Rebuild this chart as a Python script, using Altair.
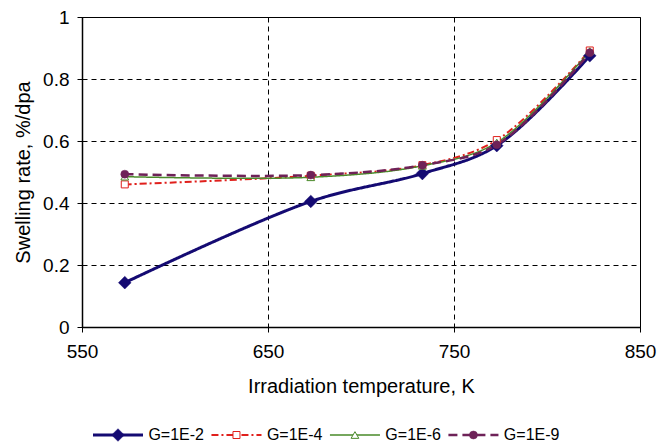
import altair as alt
import pandas as pd

# ---- data ----
temps = [573, 673, 733, 773, 823]
series = ["G=1E-2", "G=1E-4", "G=1E-6", "G=1E-9"]
g_1e2 = [0.143, 0.405, 0.495, 0.585, 0.875]
g_1e4 = [0.460, 0.488, 0.522, 0.603, 0.892]
g_1e6 = [0.485, 0.483, 0.520, 0.595, 0.890]
g_1e9 = [0.493, 0.490, 0.522, 0.588, 0.885]
values = [g_1e2, g_1e4, g_1e6, g_1e9]

x_ticks = [550, 650, 750, 850]
y_ticks = [0, 0.2, 0.4, 0.6, 0.8, 1]

# ---- styles ----
colors = ["#140a72", "#e0201c", "#4a8a2a", "#6e2258"]
dashes = [[1, 0], [7, 3, 2, 3], [1, 0], [9, 5]]
widths = [3, 2, 1.5, 2.5]
shapes = ["diamond", "square", "triangle-up", "circle"]
sizes = [160, 49, 60, 64]
filled = [True, False, False, True]

FONT = "Liberation Sans"
xs = alt.Scale(domain=[550, 850], nice=False, zero=False)
ys = alt.Scale(domain=[0, 1], nice=False)
x_axis = alt.Axis(values=x_ticks, format="d", title="Irradiation temperature, K")
y_axis = alt.Axis(values=y_ticks, format="~g", title="Swelling rate, %/dpa")

# legend layout (in x-scale units, y in pixels below plot top)
leg_start, leg_step, leg_len, leg_txt = 555.9, 63.7, 26.9, 29.8
leg_y = 418

layers = []
for i, name in enumerate(series):
    df = pd.DataFrame({"T": temps, "S": values[i], "G": name})
    line = alt.Chart(df).mark_line(
        interpolate="catmull-rom", color=colors[i], strokeDash=dashes[i],
        strokeWidth=widths[i]
    ).encode(x=alt.X("T:Q", scale=xs, axis=x_axis), y=alt.Y("S:Q", scale=ys, axis=y_axis))
    layers.append(line)

for i, name in enumerate(series):
    df = pd.DataFrame({"T": temps, "S": values[i], "G": name})
    pts = alt.Chart(df).mark_point(
        shape=shapes[i], size=sizes[i], filled=True,
        fill=colors[i] if filled[i] else "white",
        stroke=colors[i], strokeWidth=1 if not filled[i] else 0.5, opacity=1
    ).encode(x=alt.X("T:Q", scale=xs, axis=x_axis), y=alt.Y("S:Q", scale=ys, axis=y_axis))
    layers.append(pts)

# legend built from the series list
leg_rows = []
for i, name in enumerate(series):
    x0 = leg_start + i * leg_step
    leg_rows.append({"G": name, "x0": x0, "x1": x0 + leg_len, "xm": x0 + leg_len / 2,
                     "xt": x0 + leg_txt})
leg_df = pd.DataFrame(leg_rows)

for i, name in enumerate(series):
    d = leg_df[leg_df.G == name]
    base = alt.Chart(d)
    layers.append(base.mark_rule(color=colors[i], strokeDash=dashes[i], strokeWidth=widths[i]).encode(
        x=alt.X("x0:Q", scale=xs, axis=x_axis), x2="x1:Q", y=alt.value(leg_y)))
    layers.append(base.mark_point(
        shape=shapes[i], size=sizes[i], filled=True,
        fill=colors[i] if filled[i] else "white",
        stroke=colors[i], strokeWidth=1 if not filled[i] else 0.5, opacity=1
    ).encode(x=alt.X("xm:Q", scale=xs, axis=x_axis), y=alt.value(leg_y)))
    layers.append(base.mark_text(align="left", baseline="middle", font=FONT, fontSize=16,
                                 color="black").encode(
        x=alt.X("xt:Q", scale=xs, axis=x_axis), y=alt.value(leg_y), text="G:N"))

chart = alt.layer(*layers).properties(
    width=558, height=310,
    autosize=alt.AutoSizeParams(type="none"),
    padding={"left": 74, "top": 9, "right": 20, "bottom": 116},
).configure_view(
    stroke="black", strokeWidth=1
).configure_axis(
    grid=True, gridColor="black", gridDash=[5, 4], gridWidth=1, gridOpacity=1,
    domainColor="black", domainWidth=1.5,
    ticks=True, tickColor="black", tickSize=5, tickWidth=1,
    labelFont=FONT, labelFontSize=19, labelColor="black",
    labelFlush=False, labelOverlap=False, labelBound=False,
    titleFont=FONT, titleFontSize=20, titleFontWeight="normal", titleColor="black",
).configure_axisX(
    labelPadding=10, titlePadding=15
).configure_axisY(
    labelPadding=8, titlePadding=9
)

chart.save("out.html", embed_options={"renderer": "svg", "actions": False})
